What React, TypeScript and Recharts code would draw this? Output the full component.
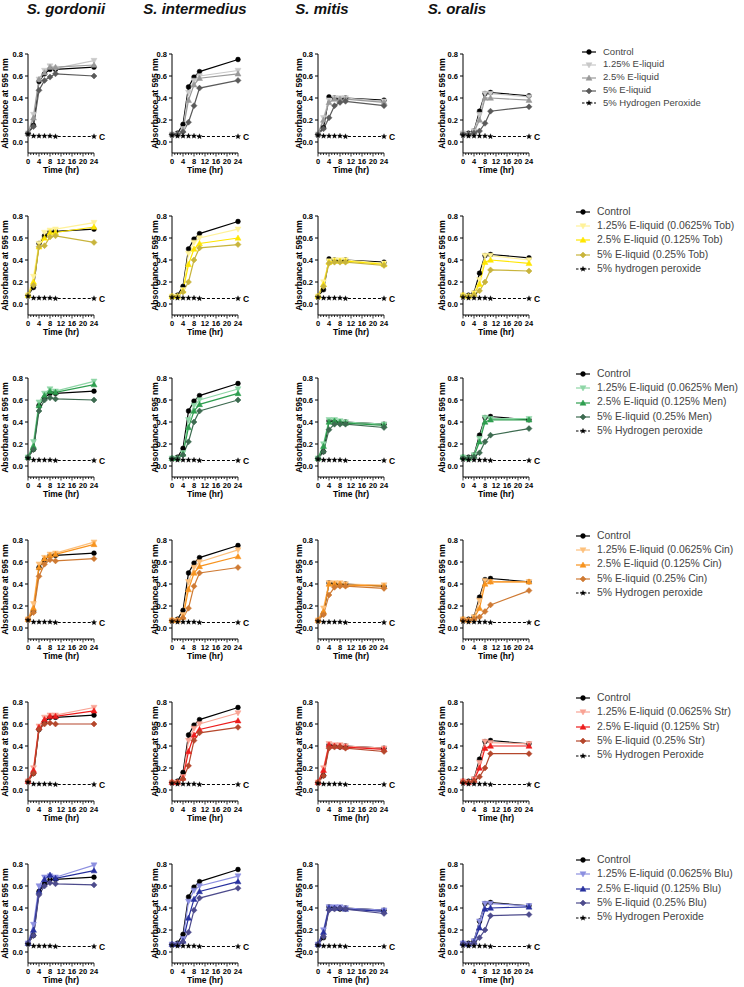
import React from 'react';
import { LineChart, Line, XAxis, YAxis, LabelList } from 'recharts';

const FONT = '"Liberation Sans", Arial, Helvetica, sans-serif';

// ---------- data ----------
const times = [0, 2, 4, 6, 8, 10, 24];
const yTickValues = [0, 0.2, 0.4, 0.6, 0.8];
const xTickValues = [0, 1, 2, 3, 4, 5, 6, 7, 8, 9, 10, 11, 12, 13, 14, 15, 16, 17, 18, 19, 20, 21, 22, 23, 24];
const xLabelTicks = [0, 4, 8, 12, 16, 20, 24];
const speciesNames = ['S. gordonii', 'S. intermedius', 'S. mitis', 'S. oralis'];

const gordoniiControl = [0.08, 0.15, 0.55, 0.62, 0.66, 0.66, 0.68];
const intermediusControl = [0.07, 0.08, 0.16, 0.5, 0.59, 0.64, 0.75];
const mitisControl = [0.07, 0.13, 0.41, 0.4, 0.39, 0.4, 0.38];
const oralisControl = [0.08, 0.08, 0.1, 0.28, 0.44, 0.45, 0.42];

const gordoniiPeroxide = [0.07, 0.055, 0.055, 0.055, 0.055, 0.05, 0.05];
const intermediusPeroxide = [0.06, 0.055, 0.055, 0.055, 0.055, 0.05, 0.05];
const mitisPeroxide = [0.06, 0.055, 0.055, 0.055, 0.055, 0.05, 0.05];
const oralisPeroxide = [0.06, 0.055, 0.055, 0.055, 0.055, 0.05, 0.05];

// each: [1.25%, 2.5%, 5%]
const eliquidGordonii = [
  [0.08, 0.25, 0.57, 0.65, 0.69, 0.67, 0.74],
  [0.08, 0.22, 0.57, 0.63, 0.68, 0.68, 0.7],
  [0.08, 0.14, 0.47, 0.56, 0.59, 0.62, 0.6],
];
const eliquidIntermedius = [
  [0.07, 0.07, 0.12, 0.45, 0.56, 0.6, 0.65],
  [0.07, 0.07, 0.11, 0.38, 0.52, 0.58, 0.62],
  [0.07, 0.07, 0.09, 0.18, 0.33, 0.49, 0.56],
];
const eliquidMitis = [
  [0.07, 0.22, 0.38, 0.4, 0.4, 0.4, 0.37],
  [0.07, 0.2, 0.36, 0.39, 0.39, 0.39, 0.36],
  [0.07, 0.12, 0.22, 0.33, 0.36, 0.37, 0.33],
];
const eliquidOralis = [
  [0.08, 0.07, 0.1, 0.25, 0.44, 0.44, 0.41],
  [0.08, 0.07, 0.09, 0.2, 0.4, 0.4, 0.38],
  [0.07, 0.07, 0.08, 0.1, 0.17, 0.28, 0.32],
];

const tobGordonii = [
  [0.08, 0.25, 0.55, 0.65, 0.67, 0.68, 0.74],
  [0.08, 0.2, 0.52, 0.6, 0.65, 0.65, 0.7],
  [0.08, 0.17, 0.52, 0.53, 0.61, 0.62, 0.56],
];
const tobIntermedius = [
  [0.07, 0.07, 0.13, 0.46, 0.56, 0.6, 0.68],
  [0.07, 0.07, 0.12, 0.36, 0.5, 0.55, 0.6],
  [0.07, 0.07, 0.11, 0.2, 0.4, 0.51, 0.54],
];
const tobMitis = [
  [0.07, 0.2, 0.39, 0.4, 0.4, 0.4, 0.37],
  [0.07, 0.18, 0.38, 0.39, 0.39, 0.39, 0.36],
  [0.07, 0.16, 0.37, 0.38, 0.38, 0.38, 0.35],
];
const tobOralis = [
  [0.08, 0.07, 0.1, 0.22, 0.44, 0.44, 0.4],
  [0.08, 0.07, 0.09, 0.18, 0.38, 0.4, 0.37],
  [0.07, 0.07, 0.08, 0.12, 0.2, 0.31, 0.3],
];

const menGordonii = [
  [0.08, 0.22, 0.58, 0.66, 0.7, 0.68, 0.77],
  [0.08, 0.18, 0.55, 0.64, 0.68, 0.67, 0.74],
  [0.08, 0.15, 0.5, 0.6, 0.62, 0.61, 0.6],
];
const menIntermedius = [
  [0.07, 0.07, 0.12, 0.42, 0.55, 0.6, 0.7],
  [0.07, 0.07, 0.11, 0.35, 0.5, 0.56, 0.66],
  [0.07, 0.07, 0.1, 0.22, 0.4, 0.5, 0.6],
];
const menMitis = [
  [0.07, 0.2, 0.42, 0.42, 0.41, 0.4, 0.38],
  [0.07, 0.18, 0.4, 0.41, 0.4, 0.39, 0.37],
  [0.07, 0.13, 0.33, 0.38, 0.38, 0.38, 0.35],
];
const menOralis = [
  [0.08, 0.07, 0.1, 0.25, 0.44, 0.43, 0.43],
  [0.08, 0.07, 0.09, 0.22, 0.4, 0.42, 0.42],
  [0.07, 0.07, 0.08, 0.12, 0.22, 0.28, 0.34],
];

const cinGordonii = [
  [0.08, 0.22, 0.58, 0.64, 0.67, 0.68, 0.78],
  [0.08, 0.18, 0.55, 0.63, 0.66, 0.67, 0.76],
  [0.08, 0.14, 0.47, 0.58, 0.62, 0.61, 0.63],
];
const cinIntermedius = [
  [0.07, 0.07, 0.12, 0.42, 0.55, 0.6, 0.71],
  [0.07, 0.07, 0.1, 0.35, 0.5, 0.56, 0.65],
  [0.07, 0.07, 0.09, 0.18, 0.38, 0.5, 0.55],
];
const cinMitis = [
  [0.07, 0.18, 0.41, 0.41, 0.41, 0.4, 0.39],
  [0.07, 0.15, 0.4, 0.4, 0.4, 0.39, 0.38],
  [0.07, 0.12, 0.3, 0.37, 0.38, 0.38, 0.36],
];
const cinOralis = [
  [0.08, 0.07, 0.1, 0.25, 0.43, 0.42, 0.42],
  [0.08, 0.07, 0.09, 0.18, 0.4, 0.42, 0.42],
  [0.07, 0.07, 0.08, 0.1, 0.15, 0.21, 0.34],
];

const strGordonii = [
  [0.08, 0.2, 0.58, 0.66, 0.68, 0.68, 0.75],
  [0.08, 0.18, 0.57, 0.64, 0.67, 0.67, 0.72],
  [0.08, 0.15, 0.55, 0.6, 0.61, 0.6, 0.6],
];
const strIntermedius = [
  [0.07, 0.07, 0.12, 0.45, 0.56, 0.6, 0.7],
  [0.07, 0.07, 0.11, 0.35, 0.5, 0.55, 0.63],
  [0.07, 0.07, 0.1, 0.22, 0.45, 0.52, 0.57],
];
const strMitis = [
  [0.07, 0.2, 0.42, 0.41, 0.41, 0.4, 0.38],
  [0.07, 0.18, 0.41, 0.4, 0.4, 0.39, 0.37],
  [0.07, 0.13, 0.38, 0.39, 0.39, 0.38, 0.35],
];
const strOralis = [
  [0.08, 0.07, 0.1, 0.25, 0.44, 0.43, 0.42],
  [0.08, 0.07, 0.09, 0.2, 0.38, 0.4, 0.4],
  [0.07, 0.07, 0.08, 0.12, 0.2, 0.33, 0.33],
];

const bluGordonii = [
  [0.08, 0.25, 0.6, 0.68, 0.69, 0.68, 0.79],
  [0.08, 0.2, 0.55, 0.66, 0.7, 0.67, 0.74],
  [0.08, 0.15, 0.52, 0.6, 0.63, 0.62, 0.61],
];
const bluIntermedius = [
  [0.07, 0.07, 0.12, 0.46, 0.56, 0.6, 0.69],
  [0.07, 0.07, 0.1, 0.31, 0.48, 0.55, 0.64],
  [0.07, 0.07, 0.09, 0.18, 0.38, 0.49, 0.58],
];
const bluMitis = [
  [0.07, 0.2, 0.41, 0.41, 0.41, 0.4, 0.38],
  [0.07, 0.18, 0.4, 0.4, 0.4, 0.39, 0.37],
  [0.07, 0.14, 0.38, 0.39, 0.4, 0.39, 0.35],
];
const bluOralis = [
  [0.08, 0.07, 0.1, 0.28, 0.44, 0.44, 0.42],
  [0.08, 0.07, 0.09, 0.22, 0.39, 0.4, 0.41],
  [0.07, 0.07, 0.08, 0.13, 0.2, 0.33, 0.34],
];

const eliquidColors = ['#000000', '#c8c8c8', '#999999', '#5a5a5a'];
const tobColors = ['#000000', '#fff29a', '#ffe600', '#c8b43c'];
const menColors = ['#000000', '#8ed6a6', '#2e9e4f', '#3d6b50'];
const cinColors = ['#000000', '#fdc07c', '#f7931e', '#cf7a33'];
const strColors = ['#000000', '#f9a394', '#ed1c1c', '#b5472c'];
const bluColors = ['#000000', '#8c8fe0', '#27309e', '#4d4b8c'];

const eliquidLabels = ['Control', '1.25% E-liquid', '2.5% E-liquid', '5% E-liquid', '5% Hydrogen Peroxide'];
const tobLabels = ['Control', '1.25% E-liquid (0.0625% Tob)', '2.5% E-liquid (0.125% Tob)', '5% E-liquid (0.25% Tob)', '5% hydrogen peroxide'];
const menLabels = ['Control', '1.25% E-liquid (0.0625% Men)', '2.5% E-liquid (0.125% Men)', '5% E-liquid (0.25% Men)', '5% Hydrogen peroxide'];
const cinLabels = ['Control', '1.25% E-liquid (0.0625% Cin)', '2.5% E-liquid (0.125% Cin)', '5% E-liquid (0.25% Cin)', '5% Hydrogen peroxide'];
const strLabels = ['Control', '1.25% E-liquid (0.0625% Str)', '2.5% E-liquid (0.125% Str)', '5% E-liquid (0.25% Str)', '5% Hydrogen Peroxide'];
const bluLabels = ['Control', '1.25% E-liquid (0.0625% Blu)', '2.5% E-liquid (0.125% Blu)', '5% E-liquid (0.25% Blu)', '5% Hydrogen Peroxide'];

const controls = [gordoniiControl, intermediusControl, mitisControl, oralisControl];
const peroxides = [gordoniiPeroxide, intermediusPeroxide, mitisPeroxide, oralisPeroxide];

const rows = [
  { panels: [eliquidGordonii, eliquidIntermedius, eliquidMitis, eliquidOralis], colors: eliquidColors, labels: eliquidLabels },
  { panels: [tobGordonii, tobIntermedius, tobMitis, tobOralis], colors: tobColors, labels: tobLabels },
  { panels: [menGordonii, menIntermedius, menMitis, menOralis], colors: menColors, labels: menLabels },
  { panels: [cinGordonii, cinIntermedius, cinMitis, cinOralis], colors: cinColors, labels: cinLabels },
  { panels: [strGordonii, strIntermedius, strMitis, strOralis], colors: strColors, labels: strLabels },
  { panels: [bluGordonii, bluIntermedius, bluMitis, bluOralis], colors: bluColors, labels: bluLabels },
];

// ---------- layout ----------
const COL_X0 = [28, 172, 318, 463];
const COL_LABEL_X = [17, 23, 21, 19];
const ROW_Y0 = [54, 216, 378, 540, 702, 864];
const TITLE_CX = [66, 195, 322, 457];
const PX_PER_UNIT = 110;
const PLOT_W = 66;
const Y_MIN = -0.1;
const Y_AXIS_W = 40;
const TOP_M = 10;
const RIGHT_M = 18;
const BOTTOM_M = 5;
const X_AXIS_H = 20;

const SHAPES = ['circle', 'itri', 'tri', 'diamond'];

function starPath(cx: number, cy: number, R: number, r: number) {
  let d = '';
  for (let k = 0; k < 10; k++) {
    const ang = -Math.PI / 2 + (k * Math.PI) / 5;
    const rad = k % 2 === 0 ? R : r;
    d += (k === 0 ? 'M' : 'L') + (cx + rad * Math.cos(ang)).toFixed(2) + ',' + (cy + rad * Math.sin(ang)).toFixed(2);
  }
  return d + 'Z';
}

function markerEl(shape: string, cx: number, cy: number, color: string, key?: string) {
  const s = 3;
  if (shape === 'circle') return <circle key={key} cx={cx} cy={cy} r={2.4} fill={color} stroke={color} strokeWidth={0.5} />;
  if (shape === 'tri')
    return <path key={key} d={`M${cx},${cy - s} L${cx + s},${cy + s * 0.75} L${cx - s},${cy + s * 0.75}Z`} fill={color} stroke={color} strokeWidth={0.5} />;
  if (shape === 'itri')
    return <path key={key} d={`M${cx},${cy + s} L${cx + s},${cy - s * 0.75} L${cx - s},${cy - s * 0.75}Z`} fill={color} stroke={color} strokeWidth={0.5} />;
  if (shape === 'diamond')
    return <path key={key} d={`M${cx},${cy - s} L${cx + s},${cy} L${cx},${cy + s} L${cx - s},${cy}Z`} fill={color} stroke={color} strokeWidth={0.5} />;
  return <path key={key} d={starPath(cx, cy, 2.8, 1.2)} fill={color} stroke={color} strokeWidth={0.3} />;
}

const makeDot = (shape: string, color: string) => (p: any) => {
  const { cx, cy, index } = p;
  if (cx == null || cy == null) return <g key={`e-${index}`} />;
  return markerEl(shape, cx, cy, color, `d-${index}`);
};

const XTick = (props: any) => {
  const { x, y, payload } = props;
  const v = payload.value;
  const major = xLabelTicks.indexOf(v) >= 0;
  return (
    <g>
      <line x1={x} x2={x} y1={y} y2={y + (major ? 3.5 : 2)} stroke="#000" strokeWidth={0.8} />
      {major && (
        <text x={x} y={y + 11} textAnchor="middle" fontSize={7.5} fontWeight="bold" fontFamily={FONT} fill="#000">
          {v}
        </text>
      )}
    </g>
  );
};

function Panel({ row, col }: { row: number; col: number }) {
  const def = rows[row];
  const treat = def.panels[col];
  const colors = def.colors;
  const data = times.map((t, i) => ({
    t,
    control: controls[col][i],
    low: treat[0][i],
    mid: treat[1][i],
    high: treat[2][i],
    hp: peroxides[col][i],
  }));
  const plotH = Math.round((0.8 - Y_MIN) * PX_PER_UNIT);
  const w = Y_AXIS_W + PLOT_W + RIGHT_M;
  const h = TOP_M + plotH + X_AXIS_H + BOTTOM_M;
  const keys = ['control', 'low', 'mid', 'high'];
  const last = times.length - 1;
  return (
    <div style={{ position: 'absolute', left: COL_X0[col] - Y_AXIS_W, top: ROW_Y0[row] - TOP_M }}>
      <LineChart width={w} height={h} data={data} margin={{ top: TOP_M, right: RIGHT_M, bottom: BOTTOM_M, left: 0 }}>
        <XAxis
          dataKey="t"
          type="number"
          domain={[0, 24]}
          ticks={xTickValues}
          interval={0}
          tick={(p: any) => <XTick {...p} />}
          tickLine={false}
          tickSize={0}
          tickMargin={0}
          axisLine={{ stroke: '#000', strokeWidth: 1 }}
          height={X_AXIS_H}
          label={{
            value: 'Time (hr)',
            position: 'insideBottom',
            offset: 0,
            style: { fontSize: 8.5, fontWeight: 'bold', fontFamily: FONT, fill: '#000' },
          }}
        />
        <YAxis
          type="number"
          domain={[Y_MIN, 0.8]}
          ticks={yTickValues}
          interval={0}
          width={Y_AXIS_W}
          tickSize={3}
          tickMargin={2}
          tickLine={{ stroke: '#000', strokeWidth: 1 }}
          axisLine={{ stroke: '#000', strokeWidth: 1 }}
          tickFormatter={(v: number) => v.toFixed(1)}
          tick={{ fontSize: 7.5, fontWeight: 'bold', fontFamily: FONT, fill: '#000' }}
          label={{
            value: 'Absorbance at 595 nm',
            angle: -90,
            position: 'insideLeft',
            offset: COL_LABEL_X[col],
            style: { textAnchor: 'middle', fontSize: 8.5, fontWeight: 'bold', fontFamily: FONT, fill: '#000' },
          }}
        />
        {keys.map((k, i) => (
          <Line
            key={k}
            dataKey={k}
            type="linear"
            stroke={colors[i]}
            strokeWidth={1.2}
            dot={makeDot(SHAPES[i], colors[i])}
            activeDot={false}
            isAnimationActive={false}
          />
        ))}
        <Line
          dataKey="hp"
          type="linear"
          stroke="#000"
          strokeWidth={1}
          strokeDasharray="3 2"
          dot={makeDot('star', '#000')}
          activeDot={false}
          isAnimationActive={false}
        >
          <LabelList
            dataKey="hp"
            content={(p: any) =>
              p.index === last ? (
                <text x={Number(p.x) + 5} y={Number(p.y) + 3} fontSize={8.5} fontWeight="bold" fontFamily={FONT} fill="#000">
                  C
                </text>
              ) : null
            }
          />
        </Line>
      </LineChart>
    </div>
  );
}

function LegendBlock({ row }: { row: number }) {
  const def = rows[row];
  const first = row === 0;
  const fontSize = first ? 9.5 : 10.4;
  const lh = first ? 12.85 : 14.4;
  const center0 = first ? 52 : 211.7 + (row - 1) * 162.1;
  const symLeft = first ? 582 : 576;
  const textLeft = first ? 603 : 597;
  const shapes = ['circle', 'itri', 'tri', 'diamond', 'star'];
  return (
    <div style={{ position: 'absolute', left: symLeft, top: center0 - lh / 2 }}>
      {def.labels.map((lab, i) => {
        const color = i < 4 ? def.colors[i] : '#000';
        return (
          <div key={i} style={{ height: lh, display: 'flex', alignItems: 'center', whiteSpace: 'nowrap' }}>
            <svg width={textLeft - symLeft} height={10} style={{ flex: 'none' }}>
              <line x1={0} x2={14} y1={5} y2={5} stroke={color} strokeWidth={1.2} strokeDasharray={i === 4 ? '2.5 1.5' : undefined} />
              {markerEl(shapes[i], 7, 5, color)}
            </svg>
            <span style={{ fontSize, fontFamily: FONT, color: '#444', lineHeight: `${lh}px` }}>{lab}</span>
          </div>
        );
      })}
    </div>
  );
}

export default function App() {
  return (
    <div style={{ position: 'absolute', left: 0, top: 0, width: 744, height: 987, background: '#fff', fontFamily: FONT, overflow: 'hidden' }}>
      {speciesNames.map((n, i) => (
        <div
          key={n}
          style={{
            position: 'absolute',
            top: 1,
            left: TITLE_CX[i] - 80,
            width: 160,
            textAlign: 'center',
            fontSize: 15,
            lineHeight: '15px',
            fontWeight: 'bold',
            fontStyle: 'italic',
            fontFamily: FONT,
            color: '#111',
          }}
        >
          {n}
        </div>
      ))}
      {rows.map((_, r) => (
        <React.Fragment key={r}>
          {[0, 1, 2, 3].map((c) => (
            <Panel key={c} row={r} col={c} />
          ))}
          <LegendBlock row={r} />
        </React.Fragment>
      ))}
    </div>
  );
}
